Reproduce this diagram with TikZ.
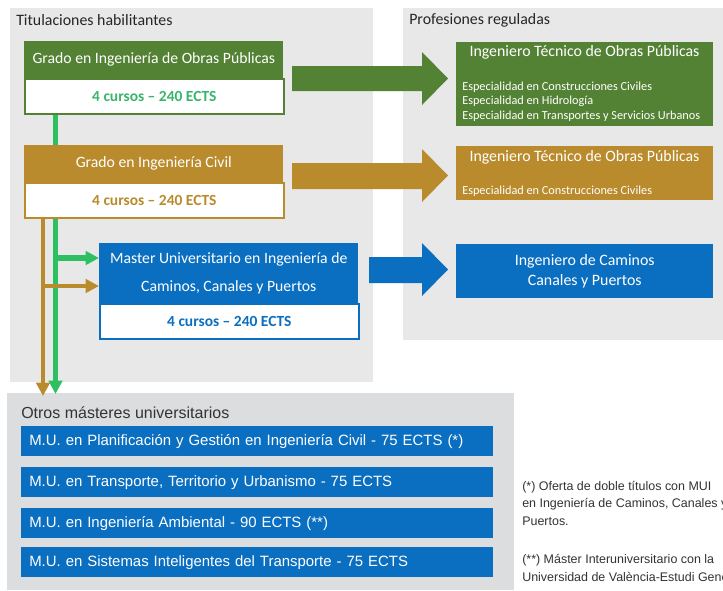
\documentclass[tikz,border=0pt]{standalone}
\usepackage{fontspec}
\setmainfont{Carlito}
\newfontfamily\rfont{Liberation Sans}
\usetikzlibrary{arrows.meta,calc}
\definecolor{panelA}{HTML}{E8E8E8}
\definecolor{panelB}{HTML}{DCDDDE}
\definecolor{dgreen}{HTML}{548235}
\definecolor{lgreen}{HTML}{2EBF63}
\definecolor{gtext}{HTML}{3AB56C}
\definecolor{gold}{HTML}{B98B2C}
\definecolor{ublue}{HTML}{0B6FC1}
\definecolor{dtext}{HTML}{333333}
\pgfdeclarelayer{back}
\pgfdeclarelayer{mid}
\pgfsetlayers{back,mid,main}
\tikzset{
  hdr/.style={anchor=north west, minimum width=#1, inner sep=0pt, text=white, font=\fontsize{11.8}{13}\selectfont},
  lowbox/.style={anchor=north west, minimum width=259*0.75pt, minimum height=35*0.75pt, inner sep=0pt, fill=white, line width=1.2pt, font=\bfseries\fontsize{11.6}{13}\selectfont},
  rbox/.style={anchor=north west, minimum width=257*0.75pt, inner sep=0pt},
  sub/.style={anchor=west, inner sep=0pt, text=white, font=\fontsize{9.2}{10}\selectfont},
  bar/.style={anchor=north west, minimum width=472*0.75pt, minimum height=30*0.75pt, inner sep=0pt, inner xsep=6pt, fill=ublue, text=white, text width=472*0.75pt-12pt, align=left, font=\rfont\fontsize{11.2}{13}\selectfont},
  ptitle/.style={anchor=west, inner sep=0pt, text=black!85, font=\fontsize{11.9}{13}\selectfont},
  note/.style={anchor=west, inner sep=0pt, text=dtext, font=\rfont\fontsize{9.35}{11}\selectfont},
  vline/.style={line width=#1, -{Triangle[length=10pt,width=10pt]}},
}
\begin{document}
\begin{tikzpicture}[x=0.75pt,y=-0.75pt]
\useasboundingbox (0,0) rectangle (723,590);
\clip (0,0) rectangle (723,590);
\begin{pgfonlayer}{back}
\fill[white] (0,0) rectangle (723,590);
\fill[panelA] (10,8) rectangle (373,382);
\fill[panelA] (403,8) rectangle (730,340);
\fill[panelB] (7,393) rectangle (514,590);
\end{pgfonlayer}

% panel titles
\node[ptitle] (tL) at (16,20) {Titulaciones habilitantes};
\node[ptitle] (tR) at (409,20) {Profesiones reguladas};

% left boxes
\node[hdr=259*0.75pt, minimum height=37*0.75pt, fill=dgreen] (g1h) at (24,41) {Grado en Ingeniería de Obras Públicas};
\node[lowbox, draw=dgreen, text=gtext] (g1l) at (24,78) {4 cursos -- 240 ECTS};
\node[hdr=259*0.75pt, minimum height=37*0.75pt, fill=gold] (g2h) at (24,145) {Grado en Ingeniería Civil};
\node[lowbox, draw=gold, text=gold] (g2l) at (24,182) {4 cursos -- 240 ECTS};
\node[hdr=259*0.75pt, minimum height=60*0.75pt, fill=ublue, align=center, font=\fontsize{11.8}{21}\selectfont] (mh) at (99,243) {Master Universitario en Ingeniería de\\Caminos, Canales y Puertos};
\node[lowbox, draw=ublue, text=ublue] (ml) at (99,303) {4 cursos -- 240 ECTS};

% thin connectors
\coordinate (gd) at (55.5,394);
\coordinate (od) at (43,396);
\coordinate (mg) at (99,258);
\coordinate (mo) at (99,286);
\begin{pgfonlayer}{mid}
\draw[vline=3.8pt, lgreen] (g1l.south -| gd) -- (gd);
\draw[vline=3.5pt, gold] (g2l.south -| od) -- (od);
\draw[vline=3.8pt, lgreen] (mg -| gd) -- (mg);
\draw[vline=3.5pt, gold] (mo -| od) -- (mo);
\end{pgfonlayer}

% block arrows
\fill[dgreen] (292,66) -- (422,66) -- (422,52) -- (448,78.5) -- (422,105) -- (422,91) -- (292,91) -- cycle;
\fill[gold] (292,163) -- (422,163) -- (422,149) -- (448,175.5) -- (422,202) -- (422,189) -- (292,189) -- cycle;
\fill[ublue] (369,257) -- (422,257) -- (422,243) -- (448,269.5) -- (422,296) -- (422,283) -- (369,283) -- cycle;

% right boxes
\node[rbox, minimum height=84*0.75pt, fill=dgreen] (r1) at (456,42) {};
\node[text=white, inner sep=0pt, font=\fontsize{11.9}{13}\selectfont] (r1t) at (584.5,52.5) {Ingeniero Técnico de Obras Públicas};
\node[sub] (r1a) at (462,87) {Especialidad en Construcciones Civiles};
\node[sub] (r1b) at (462,101.5) {Especialidad en Hidrología};
\node[sub] (r1c) at (462,116) {Especialidad en Transportes y Servicios Urbanos};

\node[rbox, minimum height=54*0.75pt, fill=gold] (r2) at (456,146) {};
\node[text=white, inner sep=0pt, font=\fontsize{11.9}{13}\selectfont] (r2t) at (584.5,157) {Ingeniero Técnico de Obras Públicas};
\node[sub] (r2a) at (462,191) {Especialidad en Construcciones Civiles};

\node[rbox, minimum height=54*0.75pt, fill=ublue, text=white, align=center, font=\fontsize{11.9}{14.3}\selectfont] (r3) at (456,244) {Ingeniero de Caminos\\Canales y Puertos};

% bottom panel
\node[anchor=west, inner sep=0pt, text=dtext, font=\rfont\fontsize{12}{14}\selectfont] (tB) at (21,413) {Otros másteres universitarios};
\node[bar] (b1) at (21,426) {M.U. en Planificación y Gestión en Ingeniería Civil - 75 ECTS (*)};
\node[bar] (b2) at (21,467) {M.U. en Transporte, Territorio y Urbanismo - 75 ECTS};
\node[bar] (b3) at (21,508) {M.U. en Ingeniería Ambiental - 90 ECTS (**)};
\node[bar] (b4) at (21,547) {M.U. en Sistemas Inteligentes del Transporte - 75 ECTS};

% notes
\node[note] (n1) at (522,487) {(*) Oferta de doble títulos con MUI};
\node[note] (n2) at (522,504) {en Ingeniería de Caminos, Canales y};
\node[note] (n3) at (522,521) {Puertos.};
\node[note] (n4) at (522,560) {(**) Máster Interuniversitario con la};
\node[note] (n5) at (522,577) {Universidad de València-Estudi General};
\end{tikzpicture}
\end{document}
